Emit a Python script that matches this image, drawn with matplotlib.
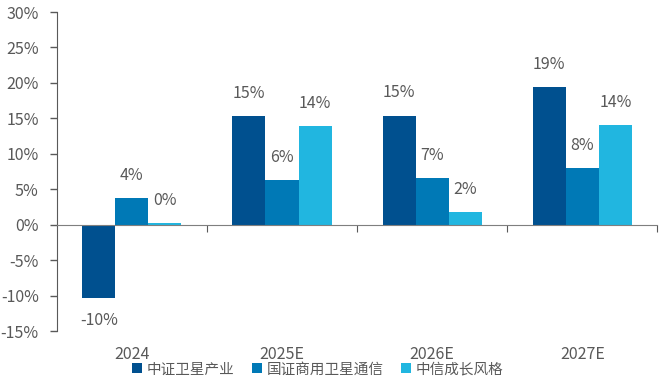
import numpy as np
import matplotlib
matplotlib.use("Agg")
import matplotlib.pyplot as plt
from matplotlib.patches import Patch

plt.rcParams['font.family'] = ['Noto Sans CJK SC', 'DejaVu Sans']

# data
categories = ["2024", "2025E", "2026E", "2027E"]
series_names = ["中证卫星产业", "国证商用卫星通信", "中信成长风格"]
satellite_industry = [-10.3, 15.3, 15.4, 19.4]
commercial_satcom = [3.8, 6.3, 6.6, 8.0]
growth_style = [0.2, 13.9, 1.8, 14.0]
colors = ["#00508F", "#0079B6", "#21B6E0"]
text_color = "#595959"

fig = plt.figure(figsize=(6.6, 3.82), dpi=100)
ax = fig.add_axes([0.086, 0.1335, 0.91, 0.835])

x = np.arange(len(categories)) + 0.5
w = 0.22
all_series = [satellite_industry, commercial_satcom, growth_style]
for i, vals in enumerate(all_series):
    xs = x + (i - 1) * w
    ax.bar(xs, vals, width=w, color=colors[i], zorder=2)
    for xi, v in zip(xs, vals):
        if v >= 0:
            ax.text(xi, v + 2.0, f"{v:.0f}%", ha="center", va="bottom",
                    fontsize=11.5, color=text_color)
        else:
            ax.text(xi, v - 2.0, f"{v:.0f}%", ha="center", va="top",
                    fontsize=11.5, color=text_color)

ax.set_xlim(0, len(categories))
ax.set_ylim(-15, 30)
ax.set_yticks(np.arange(-15, 31, 5))
ax.set_yticklabels([f"{t}%" for t in range(-15, 31, 5)])
ax.tick_params(axis="y", colors="#595959", labelsize=11.5, length=5,
               width=1, pad=8, labelcolor=text_color)

# x axis at zero with ticks between categories
ax.spines["bottom"].set_position(("data", 0))
ax.spines["bottom"].set_color("#7f7f7f")
ax.spines["left"].set_color("#595959")
ax.spines["top"].set_visible(False)
ax.spines["right"].set_visible(False)
ax.set_xticks(np.arange(1, len(categories) + 1))
ax.set_xticklabels([])
ax.tick_params(axis="x", direction="out", length=5, color="#595959")

# category labels at the bottom
for xi, c in zip(x, categories):
    ax.text(xi, -0.075, c, transform=ax.get_xaxis_transform(), ha="center",
            va="center", fontsize=11.5, color=text_color)

handles = [Patch(facecolor=c) for c in colors]
fig.legend(handles, series_names, loc="center left", bbox_to_anchor=(0.18, 0.033),
           ncol=3, frameon=False, fontsize=10.5, handlelength=0.7,
           handleheight=0.7, handletextpad=0.3, columnspacing=1.2,
           labelcolor=text_color)

fig.savefig("out.png", dpi=100)
